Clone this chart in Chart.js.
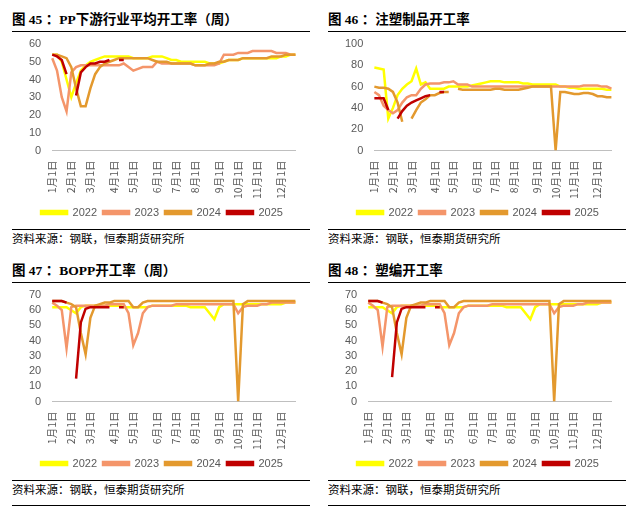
<!DOCTYPE html>
<html><head><meta charset="utf-8">
<script src="https://cdn.jsdelivr.net/npm/chart.js@4"></script>
<style>
body{margin:0;background:#fff;font-family:"Noto Sans CJK SC",sans-serif;}
.p{position:absolute;width:298px;}
.t{position:absolute;left:0;top:0;font-weight:bold;font-size:13.5px;color:#000;font-family:"Liberation Serif","Noto Sans CJK SC",serif;white-space:nowrap;}
.t span{font-family:"Noto Sans CJK SC";}
.r{position:absolute;left:0;width:298px;border-top:1.3px solid #000;}
.s{position:absolute;left:0;font-size:11.5px;color:#000;white-space:nowrap;}
.c{position:absolute;left:0;width:298px;}
</style></head><body>
<div class="p" id="p1" style="left:12px;top:8px"></div>
<div class="p" id="p2" style="left:328px;top:8px"></div>
<div class="p" id="p3" style="left:12px;top:259px"></div>
<div class="p" id="p4" style="left:328px;top:259px"></div>
<script>
// week index -> month label
var monthWeeks = [0,4,8,13,17,22,26,30,35,39,43,48];
var monthNames = ['1月1日','2月1日','3月1日','4月1日','5月1日','6月1日','7月1日','8月1日','9月1日','10月1日','11月1日','12月1日'];
var weeks = [];
for (var i = 0; i < 52; i++) weeks.push(i);
var years = ['2022','2023','2024','2025'];
var colors = ['#FFFF00','#F4956A','#E3992E','#C00000'];

// 图45 PP下游行业平均开工率
var pp2022 = [54,54,50,40,30,38,45,48,50,51,52,53,53,53,53,53,53,52,52,52,52,53,53,53,52,51,51,50,50,50,50,50,50,49,49,49,50,51,51,51,52,52,52,52,52,52,52,52,53,53,54,54];
var pp2023 = [52,45,30,22,44,47,48,48,48,48,48,48,48,48,48,49,47,45,46,47,47,47,50,49,49,49,49,49,49,49,48,48,48,48,48,49,54,54,54,55,55,55,56,56,56,56,56,55,55,55,54,54];
var pp2024 = [54,54,53,52,47,35,25,25,35,43,47,49,50,51,52,52,52,52,52,52,52,51,50,50,50,49,49,49,49,49,48,48,48,49,49,50,50,51,51,51,52,52,52,52,52,52,53,53,53,54,54,54];
var pp2025 = [54,53,51,43,null,31,44,47,49,49,50,50,51,null,51,51];

// 图46 注塑制品开工率
var zs2022 = [78,77,76,30,40,52,58,62,65,77,62,64,58,58,58,58,60,60,60,60,60,61,62,63,64,65,65,65,64,64,64,64,63,63,62,62,62,62,62,62,60,60,59,59,58,58,58,58,58,58,57,57];
var zs2023 = [55,52,42,38,35,38,45,50,52,52,58,62,63,63,63,64,64,65,62,62,62,60,60,60,60,60,60,60,60,60,60,60,60,60,60,60,60,60,60,60,60,60,60,60,60,61,61,61,61,60,60,58];
var zs2024 = [60,59,59,58,55,45,27,null,30,38,45,48,52,52,54,55,55,null,58,57,57,57,57,57,57,57,58,58,57,57,57,57,58,59,60,60,60,60,60,0,55,55,54,53,53,54,54,53,51,51,50,50];
var zs2025 = [49,49,49,38,null,30,37,42,45,47,49,51,52,null,55,55];

// 图47 BOPP开工率
var bo2022 = [62,62,62,62,60,58,62,63,63,63,63,63,63,63,63,62,62,62,62,62,62,63,63,63,63,63,63,63,63,62,62,62,62,58,54,62,64,64,64,64,64,64,64,64,64,64,64,64,64,65,65,65];
var bo2023 = [65,63,60,35,62,63,63,63,63,63,63,63,64,64,64,64,58,37,45,58,62,63,63,63,63,63,64,64,64,64,64,64,64,64,64,64,64,64,64,58,62,63,63,63,64,64,65,65,65,65,65,65];
var bo2024 = [66,66,66,65,64,62,45,31,55,63,64,65,65,66,66,66,66,62,62,65,66,66,66,66,66,66,66,66,66,66,66,66,66,66,66,66,66,66,66,0,64,66,66,66,66,66,66,66,66,66,66,66];
var bo2025 = [66,66,66,65,null,15,52,61,62,62,62,62,62,null,62,62];

// 图48 塑编开工率
var sb2022 = [62,62,62,62,60,58,62,63,63,63,63,63,63,63,63,62,62,62,62,62,62,63,63,63,63,63,63,63,63,62,62,62,62,58,54,62,64,64,64,64,64,64,64,64,64,64,64,64,64,65,65,65];
var sb2023 = [65,63,60,36,62,63,63,63,63,63,63,63,64,64,64,64,58,37,45,58,62,63,63,63,63,63,64,64,64,64,64,64,64,64,64,64,64,64,64,58,62,63,63,63,64,64,65,65,65,65,65,65];
var sb2024 = [66,66,66,65,64,62,45,31,55,63,64,65,65,66,66,66,66,62,62,65,66,66,66,66,66,66,66,66,66,66,66,66,66,66,66,66,66,66,66,0,64,66,66,66,66,66,66,66,66,66,66,66];
var sb2025 = [66,66,66,65,null,16,52,61,62,62,62,62,62,null,62,62];

function panel(id, num, title, series, yMax, yStep){
    var p = document.getElementById(id);
    p.innerHTML = '<div class="t">图 ' + num + ' <span>：</span>' + title + '</div>' +
        '<div class="r" style="top:23px"></div>' +
        '<div class="c" style="top:26px;height:194px"><canvas></canvas></div>' +
        '<div class="r" style="top:221px"></div>' +
        '<div class="s" style="top:222px">资料来源：钢联，恒泰期货研究所</div>';
    var ds = series.map(function(d, i){
        return {label: years[i], data: d, borderColor: colors[i], backgroundColor: colors[i],
            borderWidth: 2.5, pointRadius: 0, tension: 0, spanGaps: false, order: 4 - i};
    });
    new Chart(p.querySelector('canvas'), {
        type: 'line',
        data: {labels: weeks, datasets: ds},
        options: {
            animation: false, maintainAspectRatio: false,
            layout: {padding: {left: 14, right: 12, top: 10}},
            plugins: {
                tooltip: {enabled: false},
                legend: {position: 'bottom',
                    labels: {boxWidth: 26, boxHeight: 3, padding: 6, color: '#595959', font: {size: 11, family: 'Liberation Sans'},
                        sort: function(a, b){ return a.datasetIndex - b.datasetIndex; }}}
            },
            scales: {
                x: {grid: {display: false}, border: {color: '#BFBFBF'},
                    ticks: {autoSkip: false, minRotation: 90, maxRotation: 90, color: '#595959', padding: 2,
                        font: {size: 10.5, family: 'Noto Sans CJK SC'},
                        callback: function(v){ var k = monthWeeks.indexOf(v); return k < 0 ? '' : monthNames[k]; }}},
                y: {min: 0, max: yMax, grid: {display: false}, border: {display: false},
                    afterBuildTicks: function(ax){
                        var t = [];
                        for (var v = 0; v <= yMax; v += yStep) t.push({value: v});
                        ax.ticks = t;
                    },
                    ticks: {autoSkip: false, color: '#595959', font: {size: 11, family: 'Liberation Sans'}}}
            }
        }
    });
}
panel('p1', '45', 'PP下游行业平均开工率（周）', [pp2022, pp2023, pp2024, pp2025], 60, 10);
panel('p2', '46', '注塑制品开工率', [zs2022, zs2023, zs2024, zs2025], 100, 20);
panel('p3', '47', 'BOPP开工率（周）', [bo2022, bo2023, bo2024, bo2025], 70, 10);
panel('p4', '48', '塑编开工率', [sb2022, sb2023, sb2024, sb2025], 70, 10);
</script>
<div style="position:absolute;left:12px;top:505px;width:298px;border-top:1.3px solid #000"></div>
<div style="position:absolute;left:328px;top:505px;width:298px;border-top:1.3px solid #000"></div>
</body></html>
